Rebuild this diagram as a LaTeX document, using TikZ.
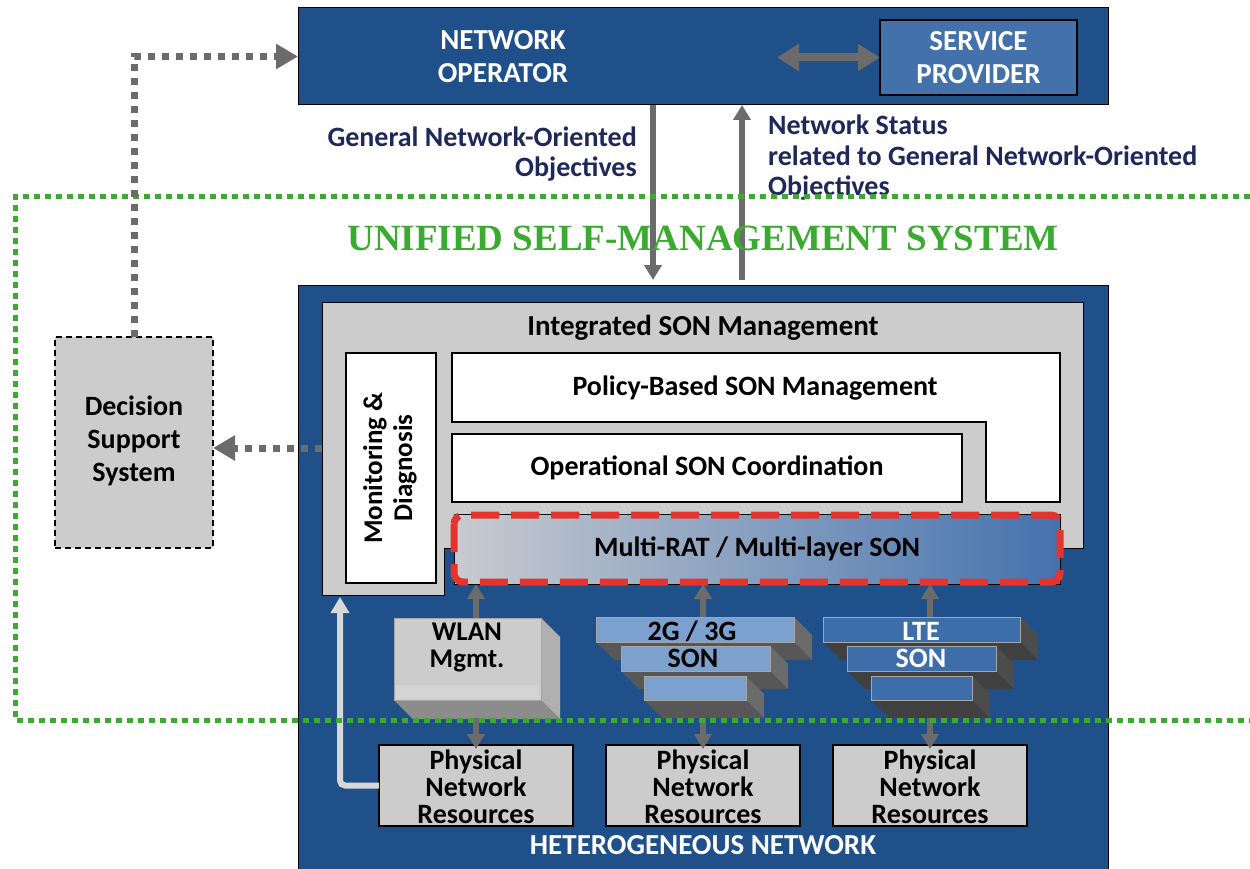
\documentclass[tikz,border=0pt]{standalone}
\usepackage{fontspec}
\setmainfont{Carlito}
\newfontfamily\serifbold{Liberation Serif}
\usetikzlibrary{arrows.meta}
\definecolor{hetblue}{RGB}{32,80,138}
\definecolor{spblue}{RGB}{66,113,172}
\definecolor{navy}{RGB}{30,40,90}
\definecolor{usgreen}{RGB}{60,170,50}
\definecolor{agray}{RGB}{107,107,107}
\definecolor{lgray}{RGB}{204,204,204}
\definecolor{fbgray}{RGB}{215,215,215}
\definecolor{rdash}{RGB}{228,52,45}
\definecolor{blu2g}{RGB}{124,161,207}
\definecolor{blulte}{RGB}{62,110,170}
\newcommand{\fsz}[2]{\fontsize{#1pt}{#2pt}\selectfont}
% 3D slab: x1,y1,x2,y2,depth,front,side,bottom,name
\newcommand{\slab}[9]{%
  \fill[#8] (#1,#4) -- (#3,#4) -- ++(#5,#5) -- ++({#1-#3},0) -- cycle;
  \fill[#7] (#3,#2) -- ++(#5,#5) -- ++(0,{#4-#2}) -- ++(-#5,-#5) -- cycle;
  \node[draw=black!35, line width=0.6pt, fill=#6, anchor=north west, inner sep=0pt, outer sep=0pt,
        minimum width={(#3-#1)*1pt}, minimum height={(#4-#2)*1pt}] (#9) at (#1,#2) {};
}
\begin{document}
\begin{tikzpicture}[x=1pt,y=-1pt,
  rbox/.style={draw=black, line width=1pt, inner sep=0pt, outer sep=0pt, anchor=north west},
  lbl/.style={inner sep=0pt, align=center, font=\bfseries\fsz{28}{30}},
  wlbl/.style={lbl, text=white},
  garr/.style={draw=agray, line width=6pt, -{Triangle[width=17pt,length=15pt]}},
  gdot/.style={draw=agray, line width=7pt, dash pattern=on 7pt off 7pt, -{Triangle[width=24pt,length=22pt]}},
  gline/.style={draw=usgreen, line width=5pt, dash pattern=on 6pt off 5pt},
]
\fill[white] (0,0) rectangle (1250,869);
\useasboundingbox (0,0) rectangle (1250,869);

% Network operator
\node[rbox, fill=hetblue, minimum width=810pt, minimum height=97pt] (no) at (298,8) {};
\node[wlbl, font=\bfseries\fsz{29}{33}] (notx) at (503,57) {NETWORK\\OPERATOR};
\node[rbox, fill=spblue, line width=1.5pt, minimum width=197pt, minimum height=75pt] (sp) at (880,20) {};
\node[wlbl, font=\bfseries\fsz{29}{33}] (sptx) at (sp.center) {SERVICE\\PROVIDER};
\coordinate (dl) at (777,57.5);
\draw[draw=agray, line width=8pt, {Triangle[width=26pt,length=22pt]}-{Triangle[width=26pt,length=22pt]}] (dl) -- (sp.west);

% Heterogeneous network
\node[rbox, fill=hetblue, minimum width=810pt, minimum height=590pt] (het) at (298,285) {};
\node[wlbl, font=\bfseries\fsz{29}{33}] (hettx) at (703,845) {HETEROGENEOUS NETWORK};

% vertical arrows
\coordinate (dx) at (653,0);
\coordinate (ux) at (742,0);
\draw[garr] (no.south -| dx) -- ([yshift=5pt]het.north -| dx);
\draw[garr] ([yshift=5pt]het.north -| ux) -- (no.south -| ux);
\node[lbl, text=navy, align=right, anchor=north east] (objl) at (637,127) {General Network-Oriented\\Objectives};
\node[lbl, text=navy, align=left, anchor=north west, font=\bfseries\fsz{28}{30.5}] (statl) at (768,115) {Network Status\\related to General Network-Oriented\\Objectives};

% title
\node[text=usgreen, font=\serifbold\bfseries\fsz{37}{40}] (ustitle) at (703,238) {UNIFIED SELF-MANAGEMENT SYSTEM};

% Integrated SON management
\draw[fill=lgray, line width=1pt] (322,302) -- (1083,302) -- (1083,548) -- (444,548) -- (444,595) -- (322,595) -- cycle;
\node[lbl, font=\bfseries\fsz{29}{30}] (integ) at (703,328) {Integrated SON Management};
\coordinate (mdout) at (322,448);
\coordinate (fbin) at (340,597);

\node[rbox, fill=white, line width=1.5pt, minimum width=90pt, minimum height=230pt] (mon) at (346,353) {};
\node[lbl, rotate=90, font=\bfseries\fsz{27}{30}] (montx) at ([xshift=-1pt]mon.center) {Monitoring \&\\Diagnosis};

\draw[fill=white, line width=1.5pt] (452,353) -- (1060,353) -- (1060,502) -- (986,502) -- (986,422) -- (452,422) -- cycle;
\node[lbl] (pol) at (755,388) {Policy-Based SON Management};
\node[rbox, fill=white, line width=1.5pt, minimum width=510pt, minimum height=68pt] (op) at (452,434) {};
\node[lbl] (optx) at (op.center) {Operational SON Coordination};

\node[rbox, left color={rgb,255:red,200;green,203;blue,208}, middle color={rgb,255:red,138;green,168;blue,210},
      right color={rgb,255:red,68;green,114;blue,174}, minimum width=606pt, minimum height=70pt] (mrat) at (454,514) {};
\node[lbl] (mrattx) at (mrat.center) {Multi-RAT / Multi-layer SON};
\draw[rdash, line width=7pt, dash pattern=on 28pt off 12pt, rounded corners=9pt] (454,515) rectangle (1060,582);

% WLAN box
\slab{394}{618}{541}{700}{19}{lgray}{black!31}{black!45}{wlan}
\fill[black!17] (396,685) rectangle (539,699);
\node[lbl, font=\bfseries\fsz{27}{27}] (wlantx) at (467,648) {WLAN\\Mgmt.};

% 2G/3G stack
\slab{596}{617}{794}{642}{18}{blu2g}{black!58}{black!66}{g1}
\slab{621}{646}{770}{671}{18}{blu2g}{black!58}{black!66}{g2}
\slab{644}{676}{746}{700}{18}{blu2g}{black!58}{black!66}{g3}
\node[lbl] (g1tx) at (692,631) {2G / 3G};
\node[lbl] (g2tx) at (693,658) {SON};

% LTE stack
\slab{823}{617}{1020}{642}{18}{blulte}{black!70}{black!75}{l1}
\slab{847}{646}{996}{671}{18}{blulte}{black!70}{black!75}{l2}
\slab{871}{676}{972}{700}{18}{blulte}{black!70}{black!75}{l3}
\node[lbl, text=white] (l1tx) at (921,631) {LTE};
\node[lbl, text=white] (l2tx) at (921,658) {SON};

% physical resources
\node[rbox, fill=lgray, line width=2pt, minimum width=194pt, minimum height=81pt] (ph1) at (379,745) {};
\node[rbox, fill=lgray, line width=2pt, minimum width=194pt, minimum height=81pt] (ph2) at (606,745) {};
\node[rbox, fill=lgray, line width=2pt, minimum width=194pt, minimum height=81pt] (ph3) at (833,745) {};
\node[lbl, font=\bfseries\fsz{28}{27}] (ph1tx) at ([yshift=-1pt]ph1.center) {Physical\\Network\\Resources};
\node[lbl, font=\bfseries\fsz{28}{27}] (ph2tx) at ([yshift=-1pt]ph2.center) {Physical\\Network\\Resources};
\node[lbl, font=\bfseries\fsz{28}{27}] (ph3tx) at ([yshift=-1pt]ph3.center) {Physical\\Network\\Resources};

% arrows up to multi-RAT
\draw[garr] (ph1.north |- wlan.north) -- (ph1.north |- mrat.south);
\draw[garr] (ph2.north |- g1.north) -- (ph2.north |- mrat.south);
\draw[garr] (ph3.north |- l1.north) -- (ph3.north |- mrat.south);
% arrows down to physical
\coordinate (sb) at (0,718);
\draw[garr] (ph1.north |- sb) -- ([yshift=-4pt]ph1.north);
\draw[garr] (ph2.north |- sb) -- ([yshift=-4pt]ph2.north);
\draw[garr] (ph3.north |- sb) -- ([yshift=-4pt]ph3.north);

% feedback arrow
\draw[fbgray, line width=6pt, rounded corners=5pt, -{Triangle[width=18pt,length=16pt]}] (ph1.west) -| (fbin);

% green dotted frame
\draw[gline] (1250,197) -- (15,197) -- (15,720) -- (1250,720);

% Decision support system
\node[rbox, fill=lgray, line width=1.5pt, dash pattern=on 6pt off 4pt, minimum width=158pt, minimum height=211pt] (dss) at (55,337) {};
\node[lbl, font=\bfseries\fsz{28}{33}] (dsstx) at ([yshift=2pt]dss.center) {Decision\\Support\\System};

% dotted arrows
\draw[gdot] (mdout) -- (dss.east |- mdout);
\draw[gdot] (dss.north) |- (no.west);
\end{tikzpicture}
\end{document}
